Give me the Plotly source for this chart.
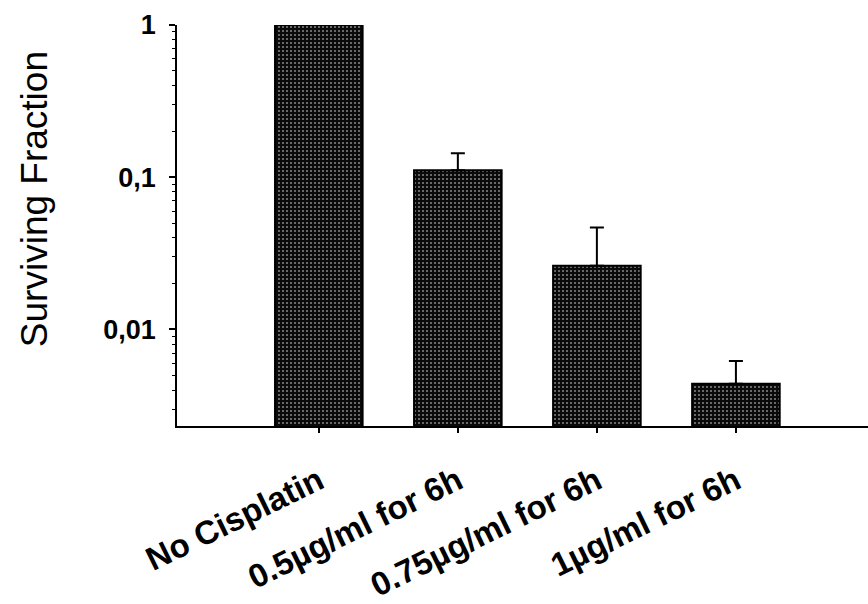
import plotly.graph_objects as go

# Clonogenic survival after cisplatin exposure
categories = ["No Cisplatin", "0.5µg/ml for 6h", "0.75µg/ml for 6h", "1µg/ml for 6h"]
surviving_fraction = [1.0, 0.111, 0.0262, 0.0044]
error_upper = [0.0, 0.0325, 0.0205, 0.0018]

y_tick_values = [1, 0.1, 0.01]
y_tick_labels = ["1", "0,1", "0,01"]

FONT = "Liberation Sans, Arial, sans-serif"

minor_vals = [d * 10.0 ** e for e in (-3, -2, -1) for d in range(2, 10)]

fig = go.Figure()
fig.add_trace(go.Bar(
    x=categories,
    y=surviving_fraction,
    width=0.63,
    marker=dict(
        color="#0a0a0a",
        line=dict(color="black", width=2),
        pattern=dict(shape=".", fgcolor="#f4f4f4", size=4, solidity=0.22,
                     fillmode="overlay"),
    ),
    error_y=dict(type="data", array=error_upper,
                 arrayminus=[0] * len(error_upper), symmetric=False,
                 color="black", thickness=2, width=7),
    showlegend=False,
))

fig.update_layout(
    width=868, height=604,
    margin=dict(l=177, r=0, t=25, b=176),
    paper_bgcolor="white", plot_bgcolor="white",
    xaxis=dict(
        type="category",
        range=[-1.02, 3.95],
        showline=True, linecolor="black", linewidth=2,
        ticks="outside", ticklen=5, tickwidth=1.5, tickcolor="black",
        tickangle=-26,
        tickfont=dict(family=FONT, size=33, color="black", weight="bold"),
        ticklabelstandoff=16,
        showgrid=False, zeroline=False,
    ),
    yaxis=dict(
        type="log",
        range=[-2.634, 0],
        showline=True, linecolor="black", linewidth=1.5,
        tickvals=y_tick_values, ticktext=y_tick_labels,
        ticks="outside", ticklen=6, tickwidth=1.5, tickcolor="black",
        tickfont=dict(family=FONT, size=27, color="black", weight="bold"),
        ticklabelstandoff=8,
        minor=dict(tickvals=minor_vals, ticks="outside", ticklen=3,
                   tickcolor="black", tickwidth=1.2, showgrid=False),
        showgrid=False, zeroline=False,
    ),
    annotations=[dict(
        text="Surviving Fraction", textangle=-90,
        xref="paper", yref="paper",
        x=-(177 - 34) / 691, y=(428 - 200) / 403,
        xanchor="center", yanchor="middle", showarrow=False,
        font=dict(family=FONT, size=37, color="black"),
    )],
)

fig.write_html("out.html")
